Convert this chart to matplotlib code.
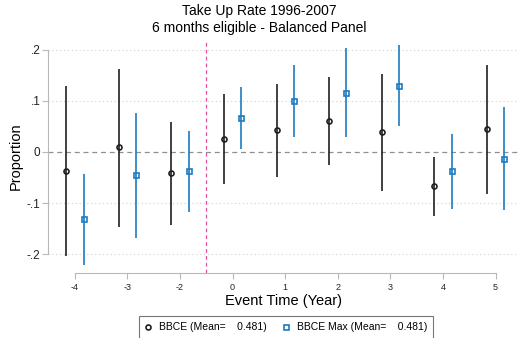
import numpy as np
import matplotlib.pyplot as plt

plt.rcParams['font.family'] = ['Liberation Sans', 'DejaVu Sans']

# event time labels (-1 is the omitted year)
labels = ['-4', '-3', '-2', '0', '1', '2', '3', '4', '5']

# BBCE estimates and 95% CI
bbce = [-0.037, 0.009, -0.042, 0.025, 0.043, 0.061, 0.039, -0.067, 0.044]
bbce_lo = [-0.204, -0.146, -0.142, -0.063, -0.048, -0.025, -0.076, -0.125, -0.082]
bbce_hi = [0.129, 0.162, 0.059, 0.113, 0.133, 0.146, 0.153, -0.010, 0.170]

# BBCE Max estimates and 95% CI
bmax = [-0.130, -0.045, -0.038, 0.066, 0.100, 0.116, 0.129, -0.038, -0.014]
bmax_lo = [-0.220, -0.168, -0.117, 0.005, 0.030, 0.029, 0.050, -0.112, -0.113]
bmax_hi = [-0.043, 0.077, 0.041, 0.127, 0.170, 0.204, 0.209, 0.035, 0.087]

blue = '#1c7cc0'
pos = np.arange(len(labels))
off = 0.165

fig = plt.figure(figsize=(5.19, 3.38), dpi=100)
ax = fig.add_axes([0.0925, 0.193, 0.906, 0.689])

# grid and reference lines
for v in [-0.2, -0.1, 0.1, 0.2]:
    ax.axhline(v, color='#d0d0d0', lw=0.8, ls=(0, (1, 2.5)), zorder=0)
ax.axhline(0, color='#909090', lw=0.9, ls=(0, (4, 3)), zorder=1)
ax.axvline(2.5, color='#e0509e', lw=0.9, ls=(0, (3, 2.5)), zorder=1)

x1 = pos - off
x2 = pos + off
ax.vlines(x1, bbce_lo, bbce_hi, color='#202020', lw=1.2, zorder=2)
ax.plot(x1, bbce, 'o', ms=3.6, mfc='none', mec='#202020', mew=1.2, zorder=3,
        label='BBCE (Mean=    0.481)')
ax.vlines(x2, bmax_lo, bmax_hi, color=blue, lw=1.2, zorder=2)
ax.plot(x2, bmax, 's', ms=3.6, mfc='none', mec=blue, mew=1.2, zorder=3,
        label='BBCE Max (Mean=    0.481)')

ax.set_xlim(-0.51, 8.43)
ax.set_ylim(-0.236, 0.219)

for s in ['top', 'right']:
    ax.spines[s].set_visible(False)
ax.spines['left'].set_bounds(-0.2, 0.2)
ax.spines['bottom'].set_bounds(0, 8)
ax.spines['left'].set_color('#b8b8b8')
ax.spines['bottom'].set_color('#b8b8b8')

ax.set_yticks([-0.2, -0.1, 0, 0.1, 0.2])
ax.set_yticklabels(['-.2', '-.1', '0', '.1', '.2'], fontsize=8.5)
ax.set_xticks(pos)
ax.set_xticklabels(labels, fontsize=6.5)
ax.tick_params(axis='both', colors='#b8b8b8', labelcolor='#222222', length=4, width=0.8)
ax.tick_params(axis='y', pad=1.5)

ax.set_ylabel('Proportion', fontsize=10.5, labelpad=3)
ax.set_xlabel('Event Time (Year)', fontsize=10.5, labelpad=1)
fig.text(0.5, 0.987, 'Take Up Rate 1996-2007\n6 months eligible - Balanced Panel',
         ha='center', va='top', fontsize=10, linespacing=1.2)

leg = fig.legend(loc='upper left', bbox_to_anchor=(0.268, 0.065), ncol=2,
                 fontsize=7.5, frameon=True, fancybox=False, handlelength=0.6,
                 columnspacing=1.6, borderpad=0.6, handletextpad=0.7,
                 borderaxespad=0)
leg.get_frame().set_edgecolor('#555555')
leg.get_frame().set_linewidth(0.8)

fig.savefig('out.png', dpi=100)
